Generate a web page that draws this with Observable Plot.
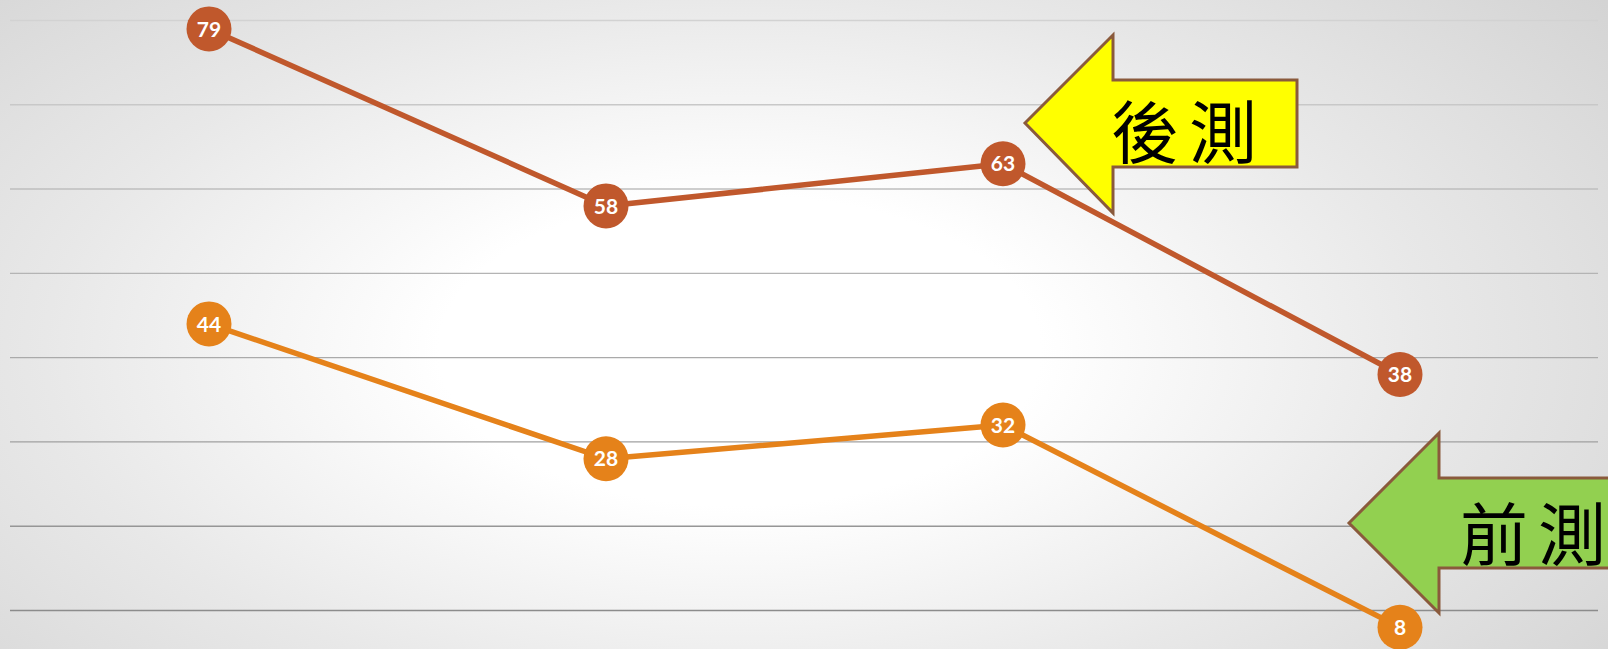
<!DOCTYPE html>
<html>
<head>
<meta charset="utf-8">
<script src="https://cdn.jsdelivr.net/npm/d3@7"></script>
<script src="https://cdn.jsdelivr.net/npm/@observablehq/plot@0.6"></script>
<style>
  html, body { margin: 0; padding: 0; }
  body { width: 1608px; height: 649px; overflow: hidden;
    background: radial-gradient(ellipse 72% 92% at 46% 54%, #ffffff 0%, #ffffff 26%, #e8e8e8 60%, #d1d1d1 100%); }
  #chart svg { display: block; background: transparent; }
</style>
</head>
<body>
<div id="chart"></div>
<script>
const occasions = [1, 2, 3, 4];
const postTest = [79, 58, 63, 38];   // 後測
const preTest = [44, 28, 32, 8];     // 前測
const gridTicks = [10, 20, 30, 40, 50, 60, 70, 80];
const seriesNames = ["後測", "前測"];

const rows = [];
occasions.forEach((o, i) => {
  rows.push({occasion: o, value: postTest[i], series: seriesNames[0]});
  rows.push({occasion: o, value: preTest[i], series: seriesNames[1]});
});
const colors = {"後測": "#c0582c", "前測": "#e5821a"};

const W = 1608, H = 649;
const plot = Plot.plot({
  width: W, height: H,
  marginLeft: 10, marginRight: 10, marginTop: 0, marginBottom: 0,
  x: {domain: [0.5, 4.5], axis: null},
  y: {domain: [5.37, 82.37], axis: null},
  color: {type: "linear", domain: [10, 80], range: ["#8c8c8c", "#d2d2d2"]},
  style: {background: "transparent", overflow: "visible"},
  marks: [
    Plot.ruleY(gridTicks, {y: d => d, stroke: d => d, strokeWidth: 1.4}),
    ...seriesNames.map(s => Plot.line(rows.filter(r => r.series === s), {
      x: "occasion", y: "value", stroke: colors[s], strokeWidth: 5.5, strokeLinejoin: "round"
    })),
    ...seriesNames.map(s => Plot.dot(rows.filter(r => r.series === s), {
      x: "occasion", y: "value", r: 22.5, fill: colors[s], stroke: null
    })),
    Plot.text(rows, {
      x: "occasion", y: "value", text: d => String(d.value), fill: "white",
      fontSize: 21, fontWeight: "bold", fontFamily: "Lato, 'Open Sans', sans-serif", dy: 1
    })
  ]
});
document.getElementById("chart").appendChild(plot);

// Arrow annotations (callouts)
const svg = d3.select(plot);
function arrow(pts, fill, label, tx, ty) {
  svg.append("polygon")
    .attr("points", pts.map(p => p.join(",")).join(" "))
    .attr("fill", fill).attr("stroke", "#8a5a3c").attr("stroke-width", 3)
    .attr("stroke-linejoin", "miter");
  svg.append("text")
    .attr("x", tx).attr("y", ty)
    .attr("text-anchor", "start")
    .attr("font-family", "'Noto Sans CJK TC', 'Noto Sans CJK SC', sans-serif")
    .attr("font-size", 68).attr("letter-spacing", 10)
    .attr("dominant-baseline", "central")
    .attr("fill", "#000")
    .text(label);
}
arrow([[1025,123],[1113,35],[1113,80],[1297,80],[1297,167],[1113,167],[1113,213]], "#ffff00", "後測", 1111, 128);
arrow([[1349,523],[1439,433],[1439,478],[1620,478],[1620,568],[1439,568],[1439,613]], "#92d050", "前測", 1460, 530);
</script>
</body>
</html>
